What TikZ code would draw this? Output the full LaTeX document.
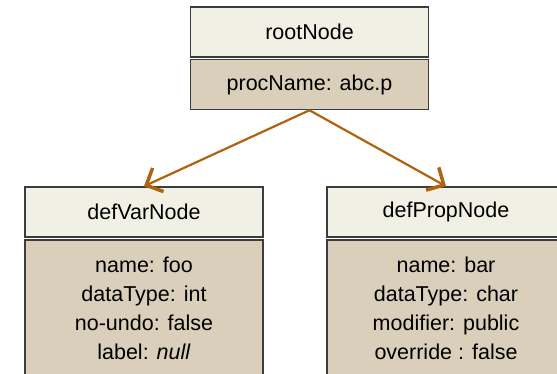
\documentclass[tikz,border=0pt]{standalone}
\usepackage{fontspec}
\setmainfont{Liberation Sans}
\usetikzlibrary{arrows.meta}

\definecolor{headfill}{HTML}{F1F0E4}
\definecolor{bodyfill}{HTML}{D9CFBB}
\definecolor{edgegray}{HTML}{3C3C3C}
\definecolor{linkbrown}{HTML}{B0620F}

\tikzset{
  head/.style={draw=edgegray, line width=1.5pt, fill=headfill,
    minimum width=238pt, minimum height=50pt, inner sep=0pt,
    font=\fontsize{21.5}{29}\selectfont},
  attrs/.style={head, fill=bodyfill},
  props/.style={attrs, anchor=north, align=center, inner ysep=17pt,
    text depth=60pt},
  link/.style={draw=linkbrown, line width=2.2pt,
    -{Straight Barb[length=13pt, width=26pt, line width=3.5pt]}}
}

\begin{document}
\begin{tikzpicture}[x=1pt,y=-1pt]
            \useasboundingbox (0,0) rectangle (557,374);
            \clip (0,0) rectangle (557,374);

            \node[head] (rootNode) at (309.5,32) {rootNode};
            \node[attrs] (procName) at (309.5,84.5) {procName: abc.p};

            \node[head] (defVarNode) at (144,212) {defVarNode};
            \node[props] (varProps) at (144,239.5)
              {name: foo\\dataType: int\\no-undo: false\\label: \textit{null}};

            \node[head] (defPropNode) at (446,212) {defPropNode};
            \node[props] (propProps) at (446,239.5)
              {name: bar\\dataType: char\\modifier: public\\override : false};

            \draw[link] (procName.south) -- (defVarNode.north);
            \draw[link] (procName.south) -- (defPropNode.north);
        \end{tikzpicture}
\end{document}
